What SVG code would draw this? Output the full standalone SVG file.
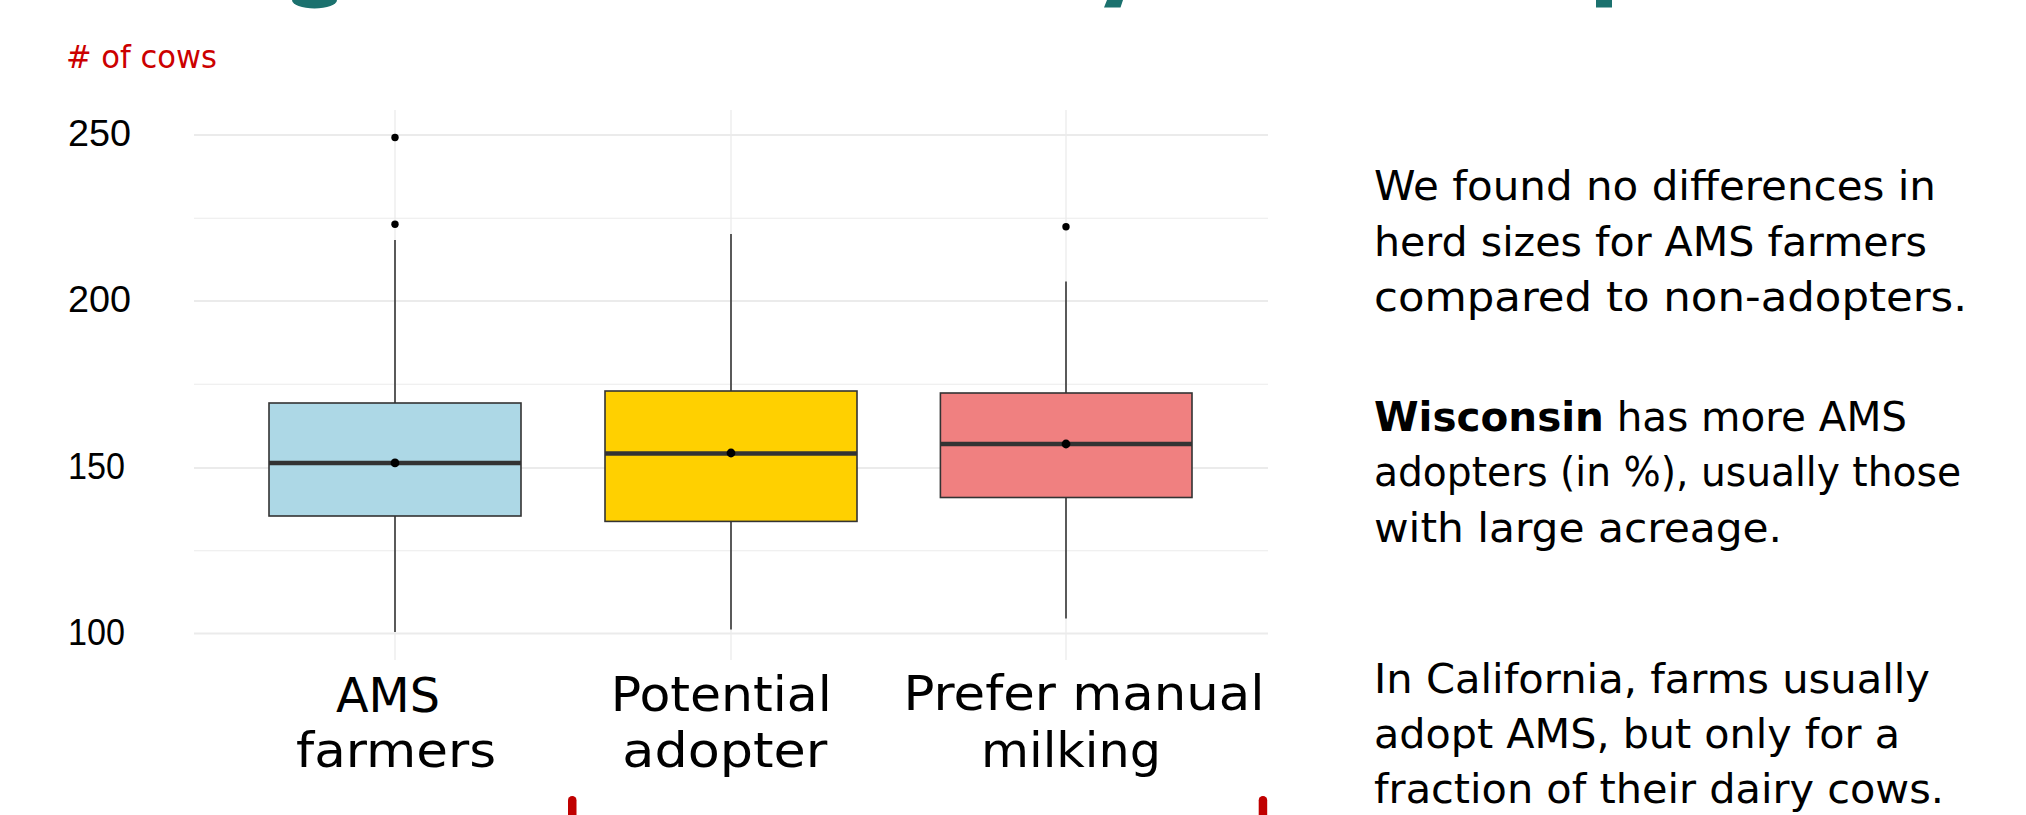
<svg xmlns="http://www.w3.org/2000/svg" width="2026" height="815" viewBox="0 0 2026 815">
<style>
.bg{fill:#ffffff}
.teal{fill:#1b716e}
.gmaj{stroke:#ebebeb;stroke-width:2;fill:none}
.gmin{stroke:#ebebeb;stroke-width:1.1;fill:none}
.gv{stroke:#ebebeb;stroke-width:1.3;fill:none}
.box{stroke:#333333;stroke-width:1.6}
.wh{stroke:#333333;stroke-width:1.6;fill:none}
.med{stroke:#333333;stroke-width:4.5;fill:none}
.pt{fill:#000000}
.ylab{font-family:"Liberation Sans",Arial,sans-serif;font-size:37px;fill:#000000}
.ytitle{font-family:"DejaVu Sans","Open Sans",sans-serif;font-size:32px;fill:#cc0000}
.cat{font-family:"DejaVu Sans","Open Sans",sans-serif;font-size:48px;fill:#000000;text-anchor:middle}
.note{font-family:"DejaVu Sans","Open Sans",sans-serif;font-size:40px;fill:#000000}
.red{fill:#c00000}
</style>
<rect class="bg" x="0" y="0" width="2026" height="815"/>

<g id="title-fragments">
<path class="teal" d="M292 0 A22.5 8.5 0 0 0 337 0 Z"/>
<polygon class="teal" points="1107,0 1123,0 1120.5,7.5 1104,7.5"/>
<rect class="teal" x="1596" y="0" width="16" height="7.5"/>
</g>

<g id="grid">
<line class="gv" x1="395" y1="110" x2="395" y2="660"/>
<line class="gv" x1="731" y1="110" x2="731" y2="660"/>
<line class="gv" x1="1066" y1="110" x2="1066" y2="660"/>
<line class="gmin" x1="194" y1="218.2" x2="1268" y2="218.2"/>
<line class="gmin" x1="194" y1="384.3" x2="1268" y2="384.3"/>
<line class="gmin" x1="194" y1="550.7" x2="1268" y2="550.7"/>
<line class="gmaj" x1="194" y1="135" x2="1268" y2="135"/>
<line class="gmaj" x1="194" y1="301" x2="1268" y2="301"/>
<line class="gmaj" x1="194" y1="467.9" x2="1268" y2="467.9"/>
<line class="gmaj" x1="194" y1="633.6" x2="1268" y2="633.6"/>
</g>

<g id="y-axis">
<text class="ytitle" x="66" y="68" textLength="151" lengthAdjust="spacingAndGlyphs"># of cows</text>
<text class="ylab" x="68" y="146" textLength="63" lengthAdjust="spacingAndGlyphs">250</text>
<text class="ylab" x="68" y="312" textLength="63" lengthAdjust="spacingAndGlyphs">200</text>
<text class="ylab" x="68" y="479" textLength="57" lengthAdjust="spacingAndGlyphs">150</text>
<text class="ylab" x="68" y="645" textLength="57" lengthAdjust="spacingAndGlyphs">100</text>
</g>

<g id="connectors"></g>

<g id="box-ams">
<line class="wh" x1="395" y1="240" x2="395" y2="403"/>
<line class="wh" x1="395" y1="516" x2="395" y2="632"/>
<rect class="box" x="269" y="403" width="252" height="113" fill="#add8e6"/>
<line class="med" x1="269" y1="462.9" x2="521" y2="462.9"/>
<circle class="pt" cx="395" cy="462.9" r="4.4"/>
<circle class="pt" cx="395" cy="137.5" r="3.7"/>
<circle class="pt" cx="395" cy="224.3" r="3.7"/>
<text class="cat" x="388" y="711.7" textLength="104" lengthAdjust="spacingAndGlyphs">AMS</text>
<text class="cat" x="396" y="766.7" textLength="200" lengthAdjust="spacingAndGlyphs">farmers</text>
</g>

<g id="box-potential">
<line class="wh" x1="731" y1="234" x2="731" y2="391"/>
<line class="wh" x1="731" y1="521.4" x2="731" y2="629.6"/>
<rect class="box" x="605" y="391" width="252" height="130.4" fill="#ffd000"/>
<line class="med" x1="605" y1="453.6" x2="857" y2="453.6"/>
<circle class="pt" cx="731" cy="453" r="4.4"/>
<text class="cat" x="721.3" y="711" textLength="221" lengthAdjust="spacingAndGlyphs">Potential</text>
<text class="cat" x="724.8" y="766.7" textLength="205" lengthAdjust="spacingAndGlyphs">adopter</text>
</g>

<g id="box-manual">
<line class="wh" x1="1066" y1="281.4" x2="1066" y2="393"/>
<line class="wh" x1="1066" y1="497.5" x2="1066" y2="618.6"/>
<rect class="box" x="940.4" y="393" width="251.6" height="104.5" fill="#f08080"/>
<line class="med" x1="940.4" y1="444" x2="1192" y2="444"/>
<circle class="pt" cx="1066" cy="444" r="4.4"/>
<circle class="pt" cx="1066" cy="226.8" r="3.7"/>
<text class="cat" x="1084" y="710" textLength="361" lengthAdjust="spacingAndGlyphs">Prefer manual</text>
<text class="cat" x="1071" y="766.7" textLength="180" lengthAdjust="spacingAndGlyphs">milking</text>
</g>

<g id="notes">
<text class="note" x="1374" y="200" textLength="562" lengthAdjust="spacingAndGlyphs">We found no differences in</text>
<text class="note" x="1374" y="256" textLength="553" lengthAdjust="spacingAndGlyphs">herd sizes for AMS farmers</text>
<text class="note" x="1374" y="310.7" textLength="593" lengthAdjust="spacingAndGlyphs">compared to non-adopters.</text>
<text class="note" x="1374" y="430.7" textLength="533" lengthAdjust="spacingAndGlyphs"><tspan font-weight="bold">Wisconsin</tspan> has more AMS</text>
<text class="note" x="1374" y="486" textLength="587" lengthAdjust="spacingAndGlyphs">adopters (in %), usually those</text>
<text class="note" x="1374" y="541.7" textLength="408" lengthAdjust="spacingAndGlyphs">with large acreage.</text>
<text class="note" x="1374" y="693.3" textLength="556" lengthAdjust="spacingAndGlyphs">In California, farms usually</text>
<text class="note" x="1374" y="748.3" textLength="526" lengthAdjust="spacingAndGlyphs">adopt AMS, but only for a</text>
<text class="note" x="1374" y="803.3" textLength="570" lengthAdjust="spacingAndGlyphs">fraction of their dairy cows.</text>
</g>

<g id="red-marks">
<rect class="red" x="568" y="796" width="8.5" height="30" rx="4.2"/>
<rect class="red" x="1258.7" y="796" width="8.5" height="30" rx="4.2"/>
</g>
</svg>
